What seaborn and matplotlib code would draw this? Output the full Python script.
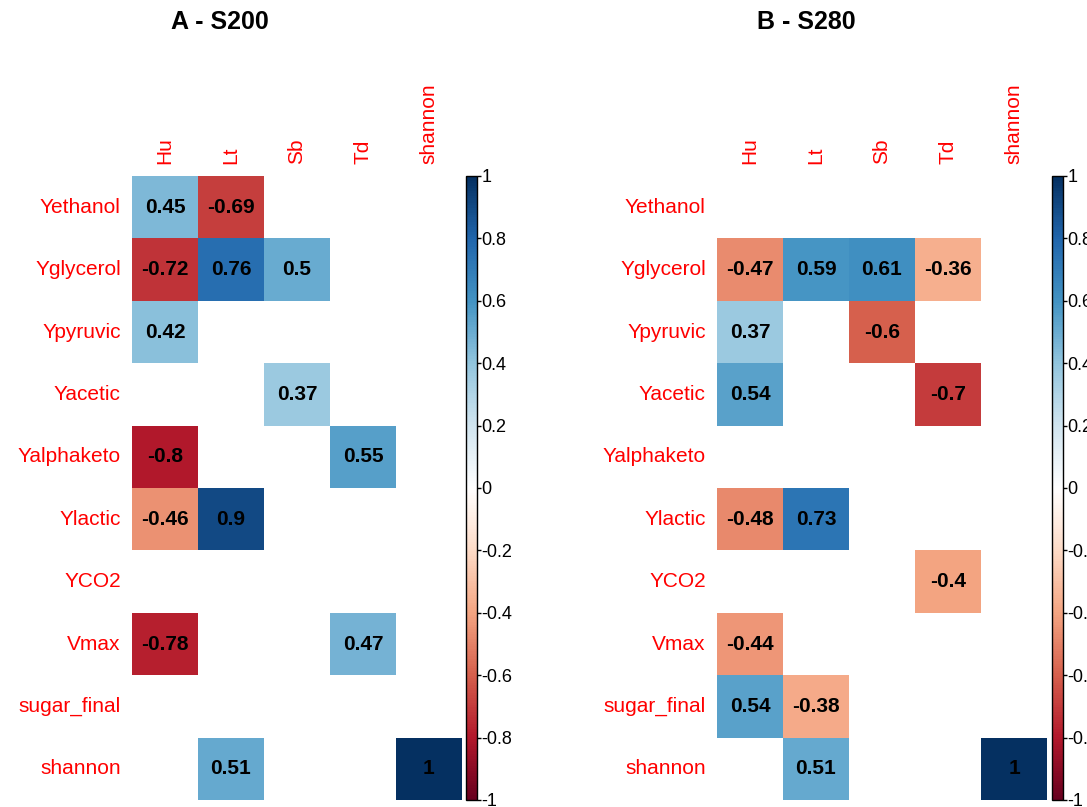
import numpy as np
import pandas as pd
import matplotlib
matplotlib.use('Agg')
import matplotlib.pyplot as plt
from matplotlib.colors import LinearSegmentedColormap
import seaborn as sns

# Data
rows = ['Yethanol', 'Yglycerol', 'Ypyruvic', 'Yacetic', 'Yalphaketo',
        'Ylactic', 'YCO2', 'Vmax', 'sugar_final', 'shannon']
cols = ['Hu', 'Lt', 'Sb', 'Td', 'shannon']
nan = np.nan

corr_s200 = [
    [0.45, -0.69, nan, nan, nan],
    [-0.72, 0.76, 0.5, nan, nan],
    [0.42, nan, nan, nan, nan],
    [nan, nan, 0.37, nan, nan],
    [-0.8, nan, nan, 0.55, nan],
    [-0.46, 0.9, nan, nan, nan],
    [nan, nan, nan, nan, nan],
    [-0.78, nan, nan, 0.47, nan],
    [nan, nan, nan, nan, nan],
    [nan, 0.51, nan, nan, 1],
]
corr_s280 = [
    [nan, nan, nan, nan, nan],
    [-0.47, 0.59, 0.61, -0.36, nan],
    [0.37, nan, -0.6, nan, nan],
    [0.54, nan, nan, -0.7, nan],
    [nan, nan, nan, nan, nan],
    [-0.48, 0.73, nan, nan, nan],
    [nan, nan, nan, -0.4, nan],
    [-0.44, nan, nan, nan, nan],
    [0.54, -0.38, nan, nan, nan],
    [nan, 0.51, nan, nan, 1],
]
titles = ['A - S200', 'B - S280']
cbar_ticks = [1, 0.8, 0.6, 0.4, 0.2, 0, -0.2, -0.4, -0.6, -0.8, -1]

# corrplot-like RdBu palette
cmap = LinearSegmentedColormap.from_list('corr', [
    "#67001F", "#B2182B", "#D6604D", "#F4A582", "#FDDBC7", "#FFFFFF",
    "#D1E5F0", "#92C5DE", "#4393C3", "#2166AC", "#053061"])

sns.set_style('white')
plt.rcParams['font.family'] = ['Liberation Sans', 'DejaVu Sans']
plt.rcParams['text.color'] = 'black'
plt.rcParams['ytick.color'] = 'black'
plt.rcParams['ytick.labelcolor'] = 'black'

W, H = 1087, 807
fig = plt.figure(figsize=(W / 100, H / 100), dpi=100)

panels = [(corr_s200, 132, 466, 220), (corr_s280, 717, 1052, 806)]

for (vals, x0, cx0, tx), title in zip(panels, titles):
    df = pd.DataFrame(vals, index=rows, columns=cols)
    annot = df.map(lambda v: '' if pd.isna(v) else f'{v:g}')
    ax = fig.add_axes([x0 / W, 7 / H, 330 / W, 624 / H])
    cax = fig.add_axes([cx0 / W, 7 / H, 11 / W, 624 / H])
    sns.heatmap(df, ax=ax, cbar_ax=cax, cmap=cmap, vmin=-1, vmax=1,
                annot=annot, fmt='',
                annot_kws={'color': 'black', 'fontsize': 15, 'fontweight': 'bold'})
    ax.xaxis.tick_top()
    ax.set_xticklabels(cols, rotation=90, color='red', fontsize=15)
    ax.set_yticklabels(rows, rotation=0, color='red', fontsize=15)
    ax.tick_params(axis='x', length=0, pad=9)
    ax.tick_params(axis='y', length=0, pad=8)
    ax.set_xlabel('')
    ax.set_ylabel('')

    cbar = ax.collections[0].colorbar
    cbar.set_ticks(cbar_ticks)
    cbar.set_ticklabels([f'{t:g}' for t in cbar_ticks])
    cbar.outline.set_edgecolor('black')
    cbar.outline.set_linewidth(1)
    cax.tick_params(labelsize=13, length=3, width=1, pad=0,
                    color='black', labelcolor='black')

    fig.text(tx / W, 1 - 22 / H, title, ha='center', va='center',
             fontsize=18, fontweight='bold', color='black')

fig.savefig('out.png', dpi=100)
